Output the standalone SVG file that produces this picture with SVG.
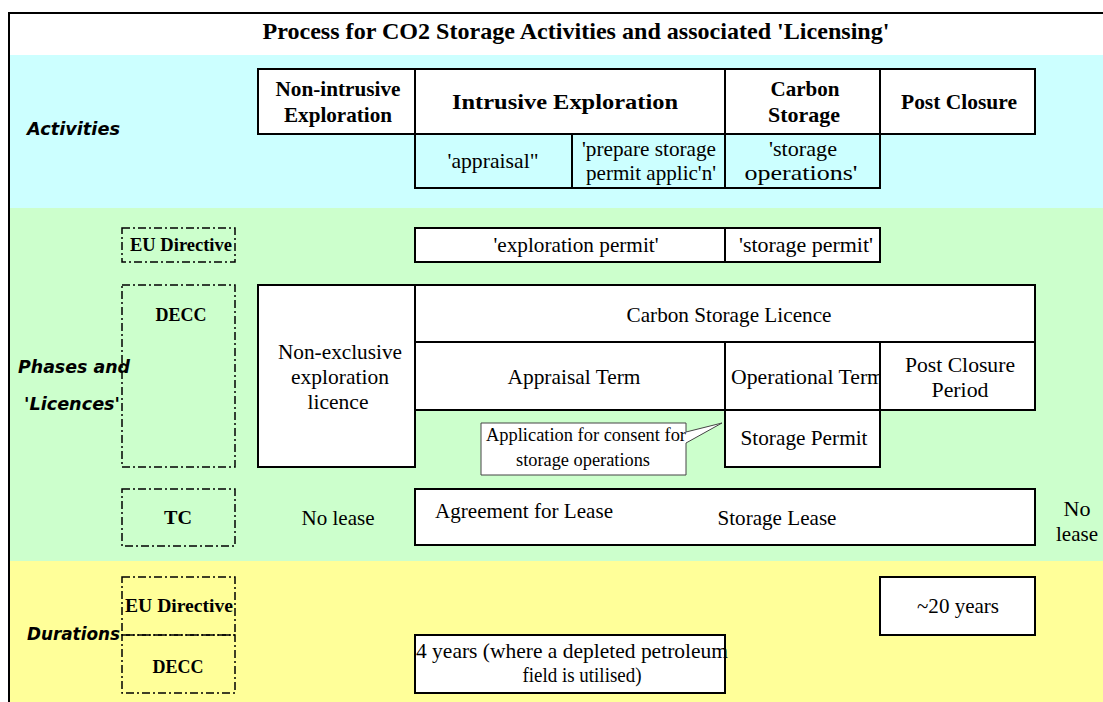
<svg xmlns="http://www.w3.org/2000/svg" width="1103" height="702" viewBox="0 0 1103 702">
<style>
.serif{font-family:"Liberation Serif","Times New Roman",serif;fill:#000}
.b{font-weight:bold}
.t16{font-size:21px}
.t18{font-size:21px}
.hd{font-size:21px;font-weight:bold}
.lab{font-size:18px;font-weight:bold}
.hand{font-family:"DejaVu Sans","Noto Sans",sans-serif;font-weight:bold;font-style:italic;font-size:18px;fill:#000}
.box{fill:#fff;stroke:#000;stroke-width:2}
.dash{fill:none;stroke:#000;stroke-width:1.5;stroke-dasharray:8,3,2,3}
.mid{text-anchor:middle}
</style>
<g id="background">
<rect x="0" y="0" width="1103" height="702" fill="#fff"/>
<rect x="9" y="55" width="1094" height="153" fill="#CCFFFF"/>
<rect x="9" y="208" width="1094" height="353" fill="#CCFFCC"/>
<rect x="9" y="561" width="1094" height="141" fill="#FFFF99"/>
<path d="M9 702 V13 H1103" fill="none" stroke="#000" stroke-width="2"/>
</g>
<g id="title"><text class="serif b mid" font-size="24" x="576" y="39" textLength="627" lengthAdjust="spacingAndGlyphs">Process for CO2 Storage Activities and associated 'Licensing'</text></g>
<g id="section-labels">
<text class="hand" x="27" y="135" textLength="93" lengthAdjust="spacingAndGlyphs">Activities</text>
<text class="hand" x="18" y="373" textLength="112" lengthAdjust="spacingAndGlyphs">Phases and</text>
<text class="hand" x="24" y="410" textLength="96" lengthAdjust="spacingAndGlyphs">'Licences'</text>
<text class="hand" x="27" y="640" textLength="93" lengthAdjust="spacingAndGlyphs">Durations</text>
</g>
<g id="activities-header">
<g id="act-nonintrusive"><rect class="box" x="258" y="69" width="157" height="65"/><text class="serif hd mid" x="338" y="96" textLength="125" lengthAdjust="spacingAndGlyphs">Non-intrusive</text><text class="serif hd mid" x="338" y="122" textLength="108" lengthAdjust="spacingAndGlyphs">Exploration</text></g>
<g id="act-intrusive"><rect class="box" x="415" y="69" width="310" height="65"/><text class="serif hd mid" x="565" y="109" textLength="226" lengthAdjust="spacingAndGlyphs">Intrusive Exploration</text></g>
<g id="act-carbon"><rect class="box" x="725" y="69" width="155" height="65"/><text class="serif hd mid" x="805" y="96" textLength="69" lengthAdjust="spacingAndGlyphs">Carbon</text><text class="serif hd mid" x="804" y="122" textLength="72" lengthAdjust="spacingAndGlyphs">Storage</text></g>
<g id="act-postclosure"><rect class="box" x="880" y="69" width="155" height="65"/><text class="serif hd mid" x="959" y="109" textLength="116" lengthAdjust="spacingAndGlyphs">Post Closure</text></g>
</g>
<g id="activities-sub">
<path d="M415 134 V188 H880 V134 M572 134 V188 M725 134 V188" fill="none" stroke="#000" stroke-width="2"/>
<g id="sub-appraisal"><text class="serif t16 mid" x="493" y="168" textLength="91" lengthAdjust="spacingAndGlyphs">'appraisal"</text></g>
<g id="sub-prepare"><text class="serif t16 mid" x="649" y="156" textLength="134" lengthAdjust="spacingAndGlyphs">'prepare storage</text><text class="serif t16 mid" x="651" y="180" textLength="130" lengthAdjust="spacingAndGlyphs">permit applic'n'</text></g>
<g id="sub-operations"><text class="serif t16 mid" x="803" y="156" textLength="68" lengthAdjust="spacingAndGlyphs">'storage</text><text class="serif t16 mid" x="801" y="180" textLength="113" lengthAdjust="spacingAndGlyphs">operations'</text></g>
</g>
<g id="authorities">
<g id="eu-directive-1"><rect class="dash" x="122" y="228" width="113" height="34"/><text class="serif lab mid" x="181" y="251" textLength="102" lengthAdjust="spacingAndGlyphs">EU Directive</text></g>
<g id="decc-1"><rect class="dash" x="122" y="285" width="113" height="182"/><text class="serif lab mid" x="181" y="321" textLength="51" lengthAdjust="spacingAndGlyphs">DECC</text></g>
<g id="tc"><rect class="dash" x="122" y="489" width="113" height="57"/><text class="serif lab mid" x="178" y="524" textLength="28" lengthAdjust="spacingAndGlyphs">TC</text></g>
<g id="eu-directive-2"><rect class="dash" x="122" y="577" width="113" height="58"/><text class="serif lab mid" x="179" y="612" textLength="108" lengthAdjust="spacingAndGlyphs">EU Directive</text></g>
<g id="decc-2"><rect class="dash" x="122" y="635" width="113" height="58"/><text class="serif lab mid" x="178" y="673" textLength="51" lengthAdjust="spacingAndGlyphs">DECC</text></g>
</g>
<g id="eu-permits">
<g id="exploration-permit"><rect class="box" x="415" y="228" width="310" height="34"/><text class="serif t16 mid" x="576" y="252" textLength="165" lengthAdjust="spacingAndGlyphs">'exploration permit'</text></g>
<g id="storage-permit-eu"><rect class="box" x="725" y="228" width="155" height="34"/><text class="serif t16 mid" x="806" y="252" textLength="134" lengthAdjust="spacingAndGlyphs">'storage permit'</text></g>
</g>
<g id="decc-licences">
<g id="non-exclusive"><rect class="box" x="258" y="285" width="157" height="182"/><text class="serif t18 mid" x="340" y="359" textLength="124" lengthAdjust="spacingAndGlyphs">Non-exclusive</text><text class="serif t18 mid" x="340" y="384" textLength="98" lengthAdjust="spacingAndGlyphs">exploration</text><text class="serif t18 mid" x="338" y="409" textLength="61" lengthAdjust="spacingAndGlyphs">licence</text></g>
<g id="carbon-storage-licence"><rect class="box" x="415" y="285" width="620" height="57"/><text class="serif t18 mid" x="729" y="322" textLength="205" lengthAdjust="spacingAndGlyphs">Carbon Storage Licence</text></g>
<g id="appraisal-term"><rect class="box" x="415" y="342" width="310" height="68"/><text class="serif t18 mid" x="574" y="384" textLength="133" lengthAdjust="spacingAndGlyphs">Appraisal Term</text></g>
<g id="operational-term"><rect class="box" x="725" y="342" width="155" height="68"/><text class="serif t18" x="731" y="384" textLength="153" lengthAdjust="spacingAndGlyphs">Operational Term</text></g>
<g id="post-closure-period"><rect class="box" x="880" y="342" width="155" height="68"/><text class="serif t18 mid" x="960" y="372" textLength="110" lengthAdjust="spacingAndGlyphs">Post Closure</text><text class="serif t18 mid" x="960" y="397" textLength="57" lengthAdjust="spacingAndGlyphs">Period</text></g>
<g id="storage-permit"><rect class="box" x="725" y="410" width="155" height="57"/><text class="serif t18 mid" x="804" y="445" textLength="127" lengthAdjust="spacingAndGlyphs">Storage Permit</text></g>
<g id="callout"><path d="M481 423 H686 V432 L722 423 L686 443 V475 H481 Z" fill="#fff" stroke="#444" stroke-width="1"/><text class="serif mid" font-size="18" x="586" y="441" textLength="200" lengthAdjust="spacingAndGlyphs">Application for consent for</text><text class="serif mid" font-size="18" x="583" y="466" textLength="134" lengthAdjust="spacingAndGlyphs">storage operations</text></g>
</g>
<g id="leases">
<g id="no-lease-left"><text class="serif t18 mid" x="338" y="525" textLength="73" lengthAdjust="spacingAndGlyphs">No lease</text></g>
<g id="storage-lease"><rect class="box" x="415" y="489" width="620" height="56"/><text class="serif t18" x="435" y="518" textLength="178" lengthAdjust="spacingAndGlyphs">Agreement for Lease</text><text class="serif t18 mid" x="777" y="525" textLength="119" lengthAdjust="spacingAndGlyphs">Storage Lease</text></g>
<g id="no-lease-right"><text class="serif t18 mid" x="1077" y="516" textLength="27" lengthAdjust="spacingAndGlyphs">No</text><text class="serif t18 mid" x="1077" y="541" textLength="42" lengthAdjust="spacingAndGlyphs">lease</text></g>
</g>
<g id="durations">
<g id="twenty-years"><rect class="box" x="880" y="577" width="155" height="58"/><text class="serif t18 mid" x="958" y="613" textLength="82" lengthAdjust="spacingAndGlyphs">~20 years</text></g>
<g id="four-years"><rect class="box" x="415" y="635" width="310" height="58"/><text class="serif t18" x="416" y="658" textLength="312" lengthAdjust="spacingAndGlyphs">4 years (where a depleted petroleum</text><text class="serif t18 mid" x="582" y="682" textLength="119" lengthAdjust="spacingAndGlyphs">field is utilised)</text></g>
</g>
<g id="connectors"></g>
</svg>
